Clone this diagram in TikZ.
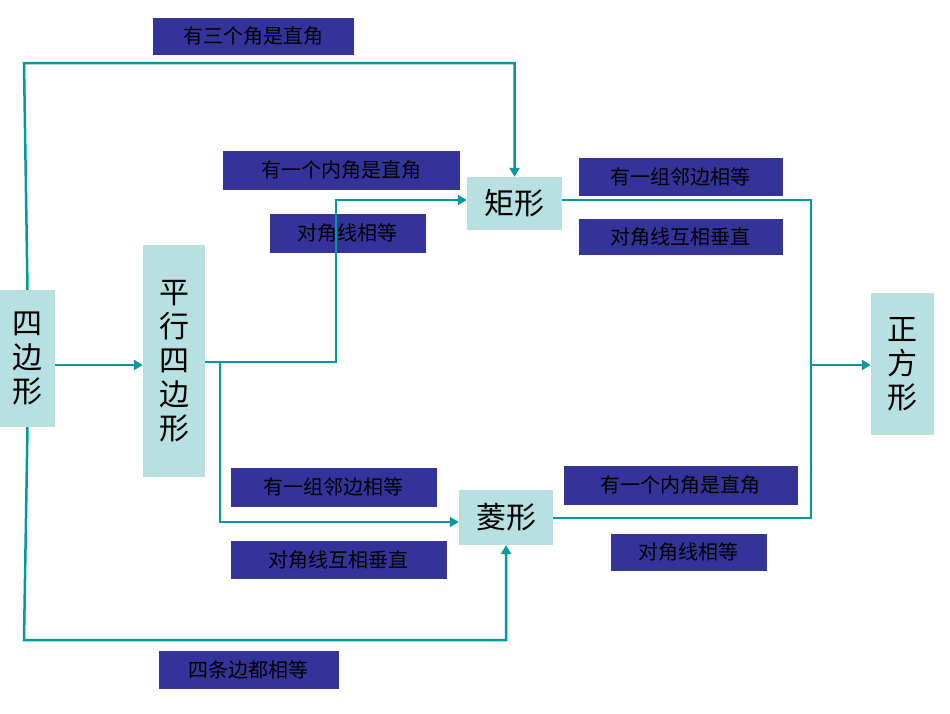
\documentclass[tikz,border=0pt]{standalone}
\usepackage{fontspec}
\newfontfamily\cjk{Noto Sans CJK SC}
\usetikzlibrary{arrows.meta}
\definecolor{boxc}{HTML}{B9E0E0}
\definecolor{labc}{HTML}{333399}
\definecolor{linec}{HTML}{009999}
\tikzset{
 figbox/.style={fill=boxc,inner sep=0pt,font=\cjk\fontsize{30}{34}\selectfont},
 lab/.style={fill=labc,draw=white,inner sep=0pt,font=\cjk\fontsize{20}{22}\selectfont,text=black},
 conn/.style={draw=linec,line width=2.5pt,-{Triangle[length=9pt,width=10pt]}},
 plain/.style={draw=linec,line width=2.5pt}
}
\begin{document}
\begin{tikzpicture}[x=1pt,y=-1pt]
\useasboundingbox (0,0) rectangle (950,713);
\node[figbox,minimum width=55,minimum height=137,align=center] (q) at (27.5,358.5) {四\\边\\形};
\node[figbox,minimum width=62,minimum height=232,align=center] (p) at (174,361) {平\\行\\四\\边\\形};
\node[figbox,minimum width=95,minimum height=53] (r) at (514.5,203.5) {矩形};
\node[figbox,minimum width=94,minimum height=55] (h) at (506,517.5) {菱形};
\node[figbox,minimum width=63,minimum height=142,align=center] (s) at (902.5,364) {正\\方\\形};
\node[lab,minimum width=202,minimum height=38] (l1) at (253,36) {有三个角是直角};
\node[lab,minimum width=238,minimum height=40] (l2) at (341,170) {有一个内角是直角};
\node[lab,minimum width=157,minimum height=40] (l3) at (347.5,233) {对角线相等};
\node[lab,minimum width=205,minimum height=39] (l4) at (680.5,176.5) {有一组邻边相等};
\node[lab,minimum width=205,minimum height=37] (l5) at (680.5,236.5) {对角线互相垂直};
\node[lab,minimum width=207,minimum height=40] (l6) at (333.5,487) {有一组邻边相等};
\node[lab,minimum width=217,minimum height=39] (l7) at (338.5,559.5) {对角线互相垂直};
\node[lab,minimum width=235,minimum height=40] (l8) at (680.5,485) {有一个内角是直角};
\node[lab,minimum width=157,minimum height=38] (l9) at (688.5,552) {对角线相等};
\node[lab,minimum width=181,minimum height=39] (l10) at (248.5,669.5) {四条边都相等};
\coordinate (j) at (811,365);
\draw[conn] (q.north) -- (24,63) -- (r.north |- 0,63) -- (r.north);
\draw[conn] (q.south) -- (24,640) -- (h.south |- 0,640) -- (h.south);
\draw[conn] (q.east |- 0,365) -- (p.west |- 0,365);
\draw[conn] (p.east |- 0,362) -- (336,362) -- (336,200) -- (r.west |- 0,200);
\draw[conn] (220,362) -- (220,522) -- (h.west |- 0,522);
\draw[plain] (r.east |- 0,200) -- (811,200) -- (811,518) -- (h.east |- 0,518);
\draw[conn] (j) -- (s.west |- j);
\end{tikzpicture}
\end{document}
